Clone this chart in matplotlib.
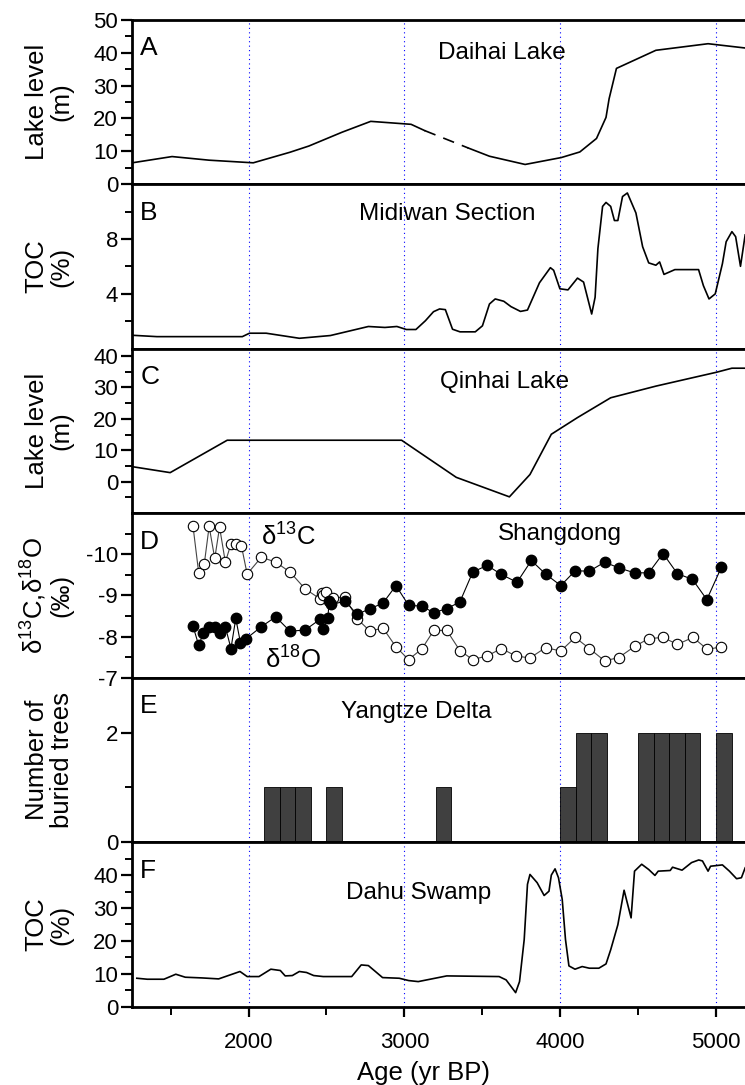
import numpy as np
import matplotlib
matplotlib.use('Agg')
import matplotlib.pyplot as plt
from matplotlib.ticker import FixedLocator

plt.rcParams['font.family'] = ['Liberation Sans', 'DejaVu Sans']
plt.rcParams['mathtext.fontset'] = 'custom'
plt.rcParams['mathtext.rm'] = 'Liberation Sans'
plt.rcParams['mathtext.it'] = 'Liberation Sans:italic'
plt.rcParams['axes.unicode_minus'] = False

# A - Daihai Lake level (m); dashed between 3130 and 3410
daihai_age = [1253, 1509, 1747, 2030, 2265, 2387, 2600, 2784, 3043, 3130, 3410, 3546,
              3775, 4007, 4126, 4233, 4294, 4314, 4361, 4614, 4949, 5187]
daihai_level = [6.5, 8.4, 7.3, 6.5, 9.7, 11.6, 15.8, 19.1, 18.2, 16.3, 11.0, 8.5,
                6.0, 8.1, 9.8, 13.9, 20.3, 26.0, 35.2, 40.7, 42.7, 41.4]
daihai_gap = (3130, 3410)

# B - Midiwan Section TOC (%)
midiwan_age = [1253, 1412, 1960, 2006, 2113, 2326, 2525, 2769, 2875, 2952, 3013, 3074,
               3135, 3187, 3226, 3263, 3309, 3357, 3455, 3501, 3546, 3583, 3638, 3684,
               3745, 3790, 3867, 3937, 3958, 3998, 4050, 4111, 4150, 4202, 4224, 4242,
               4272, 4294, 4324, 4348, 4370, 4400, 4431, 4486, 4529, 4568, 4614, 4638,
               4666, 4736, 4888, 4919, 4955, 4995, 5041, 5065, 5102, 5126, 5157, 5187]
midiwan_toc = [0.98, 0.88, 0.88, 1.13, 1.13, 0.76, 0.96, 1.62, 1.55, 1.62, 1.4, 1.4,
               2.04, 2.7, 2.9, 2.85, 1.42, 1.23, 1.23, 1.67, 3.26, 3.63, 3.46, 3.07,
               2.72, 2.82, 4.81, 5.91, 5.72, 4.37, 4.29, 5.15, 4.86, 2.53, 3.75, 7.3,
               10.38, 10.67, 10.38, 9.35, 9.35, 11.1, 11.36, 9.9, 7.44, 6.26, 6.09, 6.33,
               5.42, 5.77, 5.77, 4.6, 3.63, 4.0, 6.2, 7.8, 8.54, 8.17, 6.01, 8.3]

# C - Qinhai Lake level (m)
qinhai_age = [1253, 1497, 1863, 2982, 3333, 3674, 3806, 3943, 4111, 4324, 4614, 4843,
              5002, 5102, 5187]
qinhai_level = [4.8, 2.9, 13.2, 13.2, 1.4, -4.8, 2.3, 15.1, 20.4, 26.7, 30.4, 33.0,
                34.8, 36.1, 36.1]

# D - Shangdong d13C (open) and d18O (filled), per mil
d13c_age = [1643, 1680, 1716, 1747, 1783, 1814, 1851, 1887, 1921, 1954, 1991, 2082,
            2174, 2266, 2363, 2458, 2470, 2479, 2497, 2540, 2619, 2697, 2780, 2862,
            2946, 3027, 3112, 3189, 3272, 3356, 3439, 3531, 3623, 3714, 3806, 3906,
            4004, 4096, 4187, 4285, 4376, 4477, 4568, 4660, 4752, 4852, 4944, 5035]
d13c_val = [-10.70, -9.55, -9.77, -10.68, -9.90, -10.66, -9.81, -10.25, -10.25, -10.21,
            -9.52, -9.93, -9.81, -9.57, -9.16, -8.92, -9.05, -9.02, -9.09, -8.94,
            -8.96, -8.43, -8.13, -8.21, -7.75, -7.44, -7.70, -8.15, -8.15, -7.66,
            -7.44, -7.53, -7.71, -7.53, -7.48, -7.73, -7.65, -7.98, -7.71, -7.41,
            -7.49, -7.76, -7.95, -7.98, -7.81, -7.98, -7.69, -7.75]
d18o_age = [1643, 1680, 1710, 1747, 1783, 1814, 1851, 1887, 1918, 1948, 1985, 2082,
            2174, 2266, 2363, 2459, 2479, 2509, 2517, 2531, 2619, 2697, 2780, 2862,
            2946, 3027, 3112, 3189, 3272, 3356, 3439, 3531, 3623, 3723, 3815, 3906,
            4004, 4096, 4187, 4285, 4376, 4477, 4568, 4660, 4752, 4849, 4941, 5035]
d18o_val = [-8.26, -7.79, -8.08, -8.24, -8.24, -8.08, -8.24, -7.71, -8.44, -7.85,
            -7.95, -8.24, -8.48, -8.13, -8.16, -8.42, -8.18, -8.44, -8.86, -8.78,
            -8.86, -8.54, -8.68, -8.81, -9.24, -8.76, -8.74, -8.58, -8.68, -8.84,
            -9.57, -9.73, -9.51, -9.32, -9.85, -9.52, -9.24, -9.60, -9.59, -9.81,
            -9.67, -9.55, -9.55, -10.02, -9.53, -9.39, -8.90, -9.69]

# E - Yangtze Delta buried trees per 100-yr bin (bin start)
trees_bin = [2100, 2200, 2300, 2500, 3200, 4000, 4100, 4200, 4500, 4600, 4700, 4800, 5000]
trees_n = [1, 1, 1, 1, 1, 1, 2, 2, 2, 2, 2, 2, 2]

# F - Dahu Swamp TOC (%)
dahu_age = [1283, 1350, 1457, 1533, 1594, 1701, 1808, 1945, 1991, 2067, 2143, 2204,
            2235, 2281, 2326, 2372, 2418, 2479, 2662, 2723, 2769, 2814, 2860, 2967,
            3028, 3089, 3272, 3608, 3653, 3714, 3739, 3769, 3790, 3806, 3852, 3897,
            3928, 3943, 3967, 3989, 4013, 4034, 4056, 4095, 4141, 4187, 4248, 4294,
            4324, 4370, 4410, 4455, 4477, 4523, 4568, 4608, 4629, 4706, 4721, 4782,
            4843, 4889, 4913, 4949, 4965, 5041, 5086, 5132, 5163, 5187]
dahu_toc = [8.65, 8.35, 8.35, 9.87, 8.96, 8.75, 8.45, 10.7, 9.16, 9.16, 11.4, 11.0,
            9.36, 9.47, 10.7, 10.4, 9.47, 9.16, 9.16, 12.7, 12.5, 10.7, 8.85, 8.65,
            7.94, 7.63, 9.36, 9.16, 8.14, 4.27, 7.63, 20.4, 37.2, 40.2, 37.7, 33.8,
            35.1, 40.0, 41.9, 39.2, 32.6, 20.4, 12.4, 11.4, 12.2, 11.7, 11.7, 13.0,
            17.3, 24.9, 35.4, 27.0, 41.2, 43.3, 41.7, 39.9, 41.2, 41.4, 42.4, 41.5,
            43.8, 44.6, 44.3, 41.2, 42.7, 43.1, 41.2, 38.9, 39.2, 42.2]

grid_years = [2000, 3000, 4000, 5000]

fig = plt.figure(figsize=(7.45, 10.85), dpi=100)
left = 132 / 745
h = 164.5 / 1085
bottom0 = 1 - 1006.7 / 1085
axs = []
for i in range(6):
    ax = fig.add_axes([left, bottom0 + (5 - i) * h, 1 - left, h])
    ax.set_xlim(1252, 5186)
    ax.spines['right'].set_visible(False)
    for s in ['top', 'bottom', 'left']:
        ax.spines[s].set_linewidth(2.0)
    for g in grid_years:
        ax.axvline(g, color='blue', lw=0.8, ls=(0, (1, 3)), zorder=0)
    ax.tick_params(axis='y', which='major', direction='out', length=8, width=1.6,
                   labelsize=16, pad=2)
    ax.tick_params(axis='y', which='minor', direction='out', length=5, width=1.4)
    if i < 5:
        ax.tick_params(axis='x', which='both', bottom=False, labelbottom=False)
    ax.yaxis.set_label_coords(-0.095, 0.5)
    axs.append(ax)

lab_kw = dict(fontsize=18.5, linespacing=1.05)
txt_kw = dict(fontsize=17.5, ha='center', va='center')

def letter(ax, s):
    ax.annotate(s, xy=(0, 1), xycoords='axes fraction', xytext=(6, -12),
                textcoords='offset points', fontsize=19, ha='left', va='top')

# A
ax = axs[0]
age = np.array(daihai_age)
lev = np.array(daihai_level)
m1 = age <= daihai_gap[0]
m2 = (age >= daihai_gap[0]) & (age <= daihai_gap[1])
m3 = age >= daihai_gap[1]
ax.plot(age[m1], lev[m1], color='black', lw=1.2)
ax.plot(age[m2], lev[m2], color='black', lw=1.2, ls=(0, (7, 5)))
ax.plot(age[m3], lev[m3], color='black', lw=1.2)
ax.set_ylim(0, 50)
ax.yaxis.set_major_locator(FixedLocator([0, 10, 20, 30, 40, 50]))
ax.yaxis.set_minor_locator(FixedLocator([5, 15, 25, 35, 45]))
ax.set_ylabel('Lake level\n(m)', **lab_kw)
ax.text(3627, 40, 'Daihai Lake', **txt_kw)
letter(ax, 'A')

# B
ax = axs[1]
ax.plot(midiwan_age, midiwan_toc, color='black', lw=1.2)
ax.set_ylim(0, 12)
ax.yaxis.set_major_locator(FixedLocator([4, 8]))
ax.yaxis.set_minor_locator(FixedLocator([2, 6, 10]))
ax.set_ylabel('TOC\n(%)', **lab_kw)
ax.text(3272, 9.85, 'Midiwan Section', **txt_kw)
letter(ax, 'B')

# C
ax = axs[2]
ax.plot(qinhai_age, qinhai_level, color='black', lw=1.2)
ax.set_ylim(-10, 42.3)
ax.yaxis.set_major_locator(FixedLocator([0, 10, 20, 30, 40]))
ax.yaxis.set_minor_locator(FixedLocator([-5, 5, 15, 25, 35]))
ax.set_ylabel('Lake level\n(m)', **lab_kw)
ax.text(3644, 31.7, 'Qinhai Lake', **txt_kw)
letter(ax, 'C')

# D
ax = axs[3]
ax.plot(d13c_age, d13c_val, color='#444444', lw=0.8, marker='o', ms=7.5,
        mfc='white', mec='black', mew=0.8, zorder=3)
ax.plot(d18o_age, d18o_val, color='black', lw=0.8, marker='o', ms=7.5,
        mfc='black', mec='black', zorder=4)
ax.set_ylim(-7, -11)
ax.yaxis.set_major_locator(FixedLocator([-10, -9, -8, -7]))
ax.yaxis.set_minor_locator(FixedLocator([-10.5, -9.5, -8.5, -7.5]))
ax.set_ylabel('δ$^{13}$C,δ$^{18}$O\n(‰)', **lab_kw)
ax.text(3996, -10.5, 'Shangdong', **txt_kw)
ax.text(2253, -10.42, 'δ$^{13}$C', fontsize=18.5, ha='center', va='center')
ax.text(2287, -7.42, 'δ$^{18}$O', fontsize=18.5, ha='center', va='center')
letter(ax, 'D')

# E
ax = axs[4]
ax.bar(trees_bin, trees_n, width=100, align='edge', color='#404040',
       edgecolor='black', lw=0.6, zorder=2)
ax.set_ylim(0, 3)
ax.yaxis.set_major_locator(FixedLocator([0, 2]))
ax.yaxis.set_minor_locator(FixedLocator([1]))
ax.set_ylabel('Number of\nburied trees', **lab_kw)
ax.text(3073, 2.37, 'Yangtze Delta', **txt_kw)
letter(ax, 'E')

# F
ax = axs[5]
ax.plot(dahu_age, dahu_toc, color='black', lw=1.2)
ax.set_ylim(0, 50)
ax.yaxis.set_major_locator(FixedLocator([0, 10, 20, 30, 40]))
ax.yaxis.set_minor_locator(FixedLocator([5, 15, 25, 35, 45]))
ax.xaxis.set_major_locator(FixedLocator(grid_years))
ax.xaxis.set_minor_locator(FixedLocator([1500, 2500, 3500, 4500]))
ax.tick_params(axis='x', which='major', direction='out', length=7, width=1.6,
               labelsize=16, pad=11)
ax.tick_params(axis='x', which='minor', direction='out', length=6, width=1.4)
ax.set_ylabel('TOC\n(%)', **lab_kw)
ax.set_xlabel('Age (yr BP)', fontsize=18.5, labelpad=6)
ax.xaxis.set_label_coords(0.475, -0.33)
ax.text(3094, 34.7, 'Dahu Swamp', **txt_kw)
letter(ax, 'F')

fig.savefig('out.png', dpi=100)
